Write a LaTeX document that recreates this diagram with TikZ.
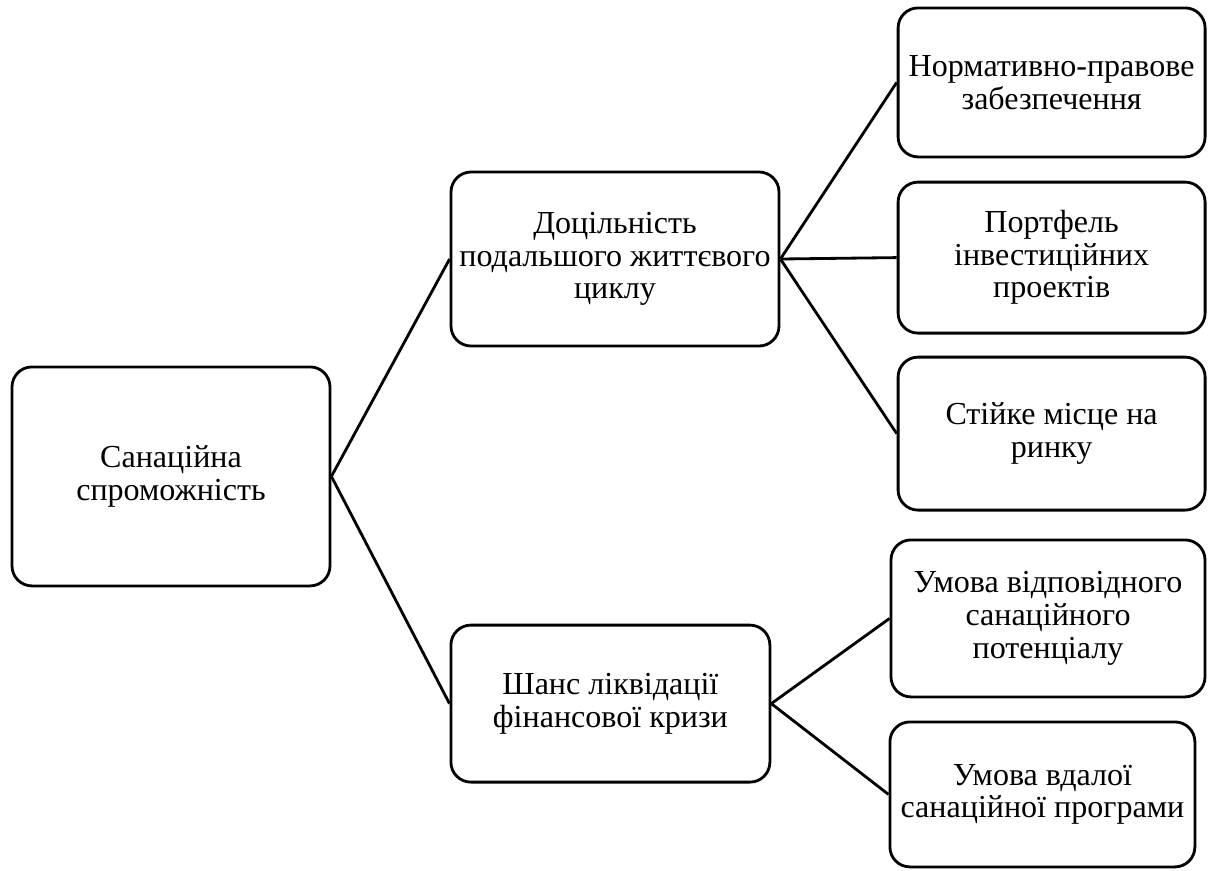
\documentclass[tikz,border=0pt]{standalone}
\usepackage{fontspec}
\setmainfont{Liberation Serif}

\begin{document}
\begin{tikzpicture}[
    box/.style={rectangle, draw, line width=2pt, rounded corners=0.5cm, align=center, inner sep=1pt, font=\fontsize{22.8}{23.2}\selectfont},
    link/.style={-, line width=2pt}
]
\useasboundingbox (0,0) rectangle (30.2,-21.75);

% --- root ---
\node[box, minimum width=7.95cm, minimum height=5.475cm] (san) at (4.275,-11.91) {Санаційна\\спроможність};

% --- middle level ---
\node[box, minimum width=8.2cm, minimum height=4.35cm] (dots) at (15.375,-6.475) {Доцільність\\подальшого життєвого\\циклу};
\node[box, minimum width=7.975cm, minimum height=3.925cm] (shans) at (15.26,-17.59) {Шанс ліквідації\\фінансової кризи};

% --- right column ---
\node[box, minimum width=7.675cm, minimum height=3.725cm] (norm) at (26.29,-2.06) {Нормативно-правове\\забезпечення};
\node[box, minimum width=7.675cm, minimum height=3.775cm] (port) at (26.29,-6.44) {Портфель\\інвестиційних\\проектів};
\node[box, minimum width=7.675cm, minimum height=3.825cm] (mist) at (26.29,-10.84) {Стійке місце на\\ринку};
\node[box, minimum width=7.85cm, minimum height=3.925cm] (pot) at (26.2,-15.46) {Умова відповідного\\санаційного\\потенціалу};
\node[box, minimum width=7.625cm, minimum height=3.625cm] (prog) at (26.06,-19.86) {Умова вдалої\\санаційної програми};

\foreach \m in {dots,shans}
    \draw[link] (san.east) -- (\m.west);
\foreach \r in {norm,port,mist}
    \draw[link] (dots.east) -- (\r.west);
\foreach \r in {pot,prog}
    \draw[link] (shans.east) -- (\r.west);

\end{tikzpicture}
\end{document}
